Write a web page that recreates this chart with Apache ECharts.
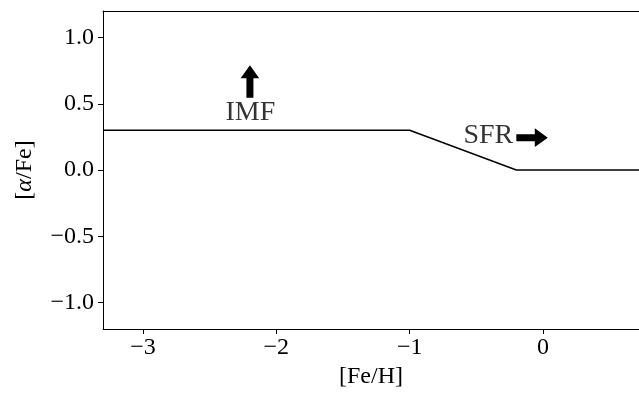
<!DOCTYPE html>
<html>
<head>
<meta charset="utf-8">
<script src="https://cdn.jsdelivr.net/npm/echarts@6/dist/echarts.min.js"></script>
<style>
  html, body { margin: 0; padding: 0; background: #fff; }
  #chart { width: 639px; height: 394px; }
</style>
</head>
<body>
<div id="chart"></div>
<script>
// model track: [Fe/H], [alpha/Fe]
var lineData = [[-3.3, 0.3], [-1.0, 0.3], [-0.2, 0.0], [0.72, 0.0]];
var xTicks = [-3, -2, -1, 0];
var yTicks = [-1.0, -0.5, 0.0, 0.5, 1.0];
// annotations: [x, y, text]
var notes = [[-2.195, 0.43, 'IMF'], [-0.41, 0.26, 'SFR']];
// arrows: [x0, y0, x1, y1] (tail -> tip)
var arrows = [[-2.198, 0.545, -2.198, 0.79], [-0.2, 0.244, 0.036, 0.244]];

var FONT = "'Liberation Serif', 'Times New Roman', serif";

function fmt(v) {
  var s = Math.abs(v) < 1e-9 ? '0' : String(Math.abs(v));
  return (v < -1e-9 ? '\u2212' : '') + s;
}
function fmt1(v) {
  var s = Math.abs(v).toFixed(1);
  return (v < -1e-9 ? '\u2212' : '') + s;
}

var chart = echarts.init(document.getElementById('chart'));

chart.setOption({
  animation: false,
  backgroundColor: '#fff',
  textStyle: { fontFamily: FONT },
  grid: { left: 103, right: 0, top: 11, bottom: 63 },
  xAxis: [{
    type: 'value', min: -3.3, max: 0.72,
    name: '[Fe/H]', nameLocation: 'middle', nameGap: 36,
    nameTextStyle: { fontFamily: FONT, fontSize: 24, color: '#000' },
    axisLine: { show: true, onZero: false, lineStyle: { color: '#000', width: 1 } },
    axisTick: { show: true, inside: false, length: 5, customValues: xTicks, lineStyle: { color: '#000' } },
    axisLabel: { customValues: xTicks, formatter: fmt, margin: 7, fontFamily: FONT, fontSize: 24, color: '#000' },
    splitLine: { show: false }
  }, {
    type: 'value', min: -3.3, max: 0.72, position: 'top',
    axisLine: { show: true, onZero: false, lineStyle: { color: '#000', width: 1 } },
    axisTick: { show: false }, axisLabel: { show: false }, splitLine: { show: false }
  }],
  yAxis: [{
    type: 'value', min: -1.2, max: 1.2,
    name: '[{a|\u03b1}/Fe]', nameLocation: 'middle', nameGap: 66, nameRotate: 90,
    nameTextStyle: {
      fontFamily: FONT, fontSize: 24, color: '#000',
      rich: { a: { fontFamily: FONT, fontSize: 24, fontStyle: 'italic', color: '#000' } }
    },
    axisLine: { show: true, onZero: false, lineStyle: { color: '#000', width: 1 } },
    axisTick: { show: true, inside: false, length: 5, customValues: yTicks, lineStyle: { color: '#000' } },
    axisLabel: { customValues: yTicks, formatter: fmt1, margin: 9, fontFamily: FONT, fontSize: 24, color: '#000' },
    splitLine: { show: false }
  }],
  series: [{
    type: 'line',
    data: lineData,
    symbol: 'none',
    lineStyle: { color: '#000', width: 1.5 },
    z: 3
  }, {
    type: 'scatter',
    data: notes.map(function (n) { return [n[0], n[1], n[2]]; }),
    symbolSize: 0,
    label: {
      show: true, position: 'inside',
      formatter: function (p) { return p.data[2]; },
      fontFamily: FONT, fontSize: 28, color: '#000'
    },
    z: 4
  }, {
    type: 'custom',
    data: arrows,
    renderItem: function (params, api) {
      var a = api.coord([api.value(0), api.value(1)]);
      var b = api.coord([api.value(2), api.value(3)]);
      var dx = b[0] - a[0], dy = b[1] - a[1];
      var len = Math.sqrt(dx * dx + dy * dy);
      var ux = dx / len, uy = dy / len, nx = -uy, ny = ux;
      var sw = 3.5, hw = 9.3, hl = 13;
      var bx = b[0] - ux * hl, by = b[1] - uy * hl;
      var pts = [
        [a[0] + nx * sw, a[1] + ny * sw],
        [bx + nx * sw, by + ny * sw],
        [bx + nx * hw, by + ny * hw],
        [b[0], b[1]],
        [bx - nx * hw, by - ny * hw],
        [bx - nx * sw, by - ny * sw],
        [a[0] - nx * sw, a[1] - ny * sw]
      ];
      return { type: 'polygon', shape: { points: pts }, style: { fill: '#000' } };
    },
    z: 5
  }]
});
</script>
</body>
</html>
